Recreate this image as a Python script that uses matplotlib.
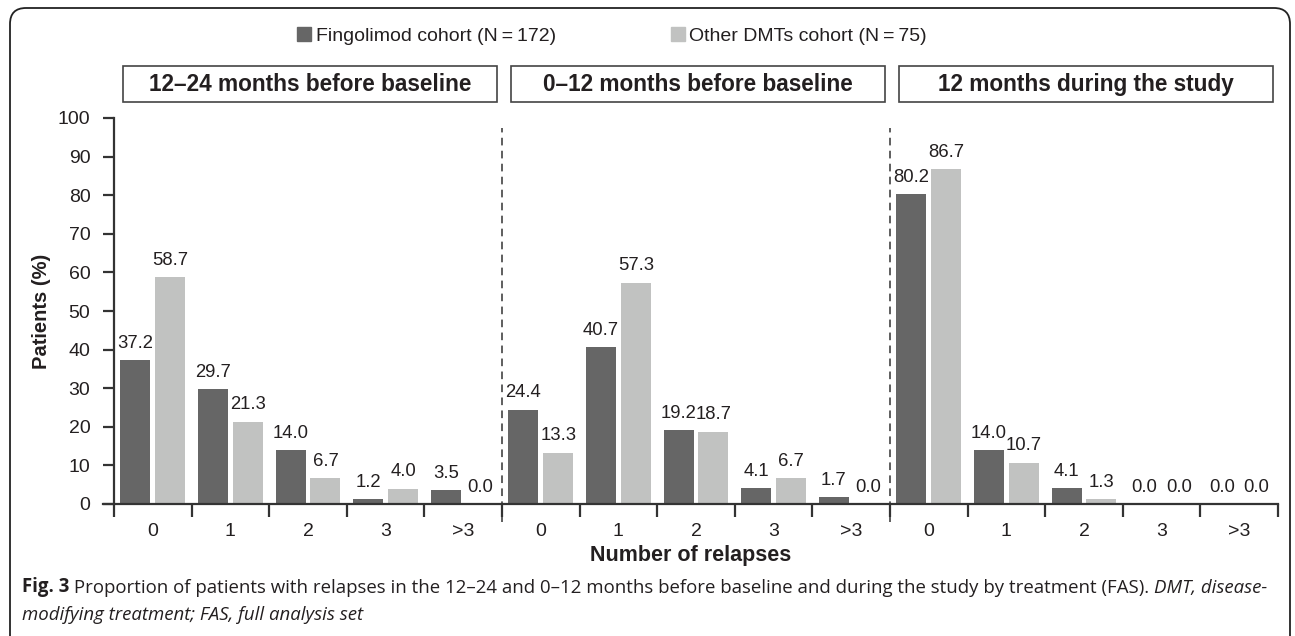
import numpy as np
import matplotlib
matplotlib.use("Agg")
import matplotlib.pyplot as plt
from matplotlib.patches import Rectangle, FancyBboxPatch, Patch
from matplotlib.transforms import IdentityTransform

plt.rcParams['font.family'] = ['Liberation Sans', 'DejaVu Sans']

periods = ['12\u201324 months before baseline', '0\u201312 months before baseline',
           '12 months during the study']
relapses = ['0', '1', '2', '3', '>3']
fingolimod = [[37.2, 29.7, 14.0, 1.2, 3.5],
              [24.4, 40.7, 19.2, 4.1, 1.7],
              [80.2, 14.0, 4.1, 0.0, 0.0]]
other_dmts = [[58.7, 21.3, 6.7, 4.0, 0.0],
              [13.3, 57.3, 18.7, 6.7, 0.0],
              [86.7, 10.7, 1.3, 0.0, 0.0]]
series_names = ['Fingolimod cohort (N\u2009=\u2009172)', 'Other DMTs cohort (N\u2009=\u200975)']

dark = '#666666'
light = '#c1c2c1'
txt = '#231f20'
axc = '#333333'

fig = plt.figure(figsize=(12.95, 6.36), dpi=100)
ax = fig.add_axes([103/1295, 1-504/636, (1278-103)/1295, 386/636])

n = len(relapses)
x = np.arange(len(periods)*n)
f_vals = np.concatenate(fingolimod)
o_vals = np.concatenate(other_dmts)
w = 0.387
off = 0.225
b1 = ax.bar(x-off, f_vals, w, color=dark)
b2 = ax.bar(x+off, o_vals, w, color=light)
for bars, vals in ((b1, f_vals), (b2, o_vals)):
    for r, v in zip(bars, vals):
        ax.annotate(f'{v:.1f}', (r.get_x()+r.get_width()/2, v), xytext=(0, 6),
                    textcoords='offset points', ha='center', va='bottom',
                    fontsize=13.3, color=txt)

ax.set_ylim(0, 100)
ax.set_xlim(-0.5-11/77.6, len(x)-0.5)
ax.set_yticks(np.arange(0, 101, 10))
ax.set_xticks(np.arange(-0.5, len(x), 1))
ax.set_xticklabels([])
ax.set_xticks(x, minor=True)
ax.set_xticklabels(relapses*len(periods), minor=True)
ax.tick_params(axis='x', which='major', direction='out', length=9.5, width=1.6, color=axc)
ax.tick_params(axis='x', which='minor', length=0, pad=14, labelsize=14, labelcolor=txt)
ax.tick_params(axis='y', direction='out', length=8, width=1.6, color=axc, pad=9,
               labelsize=14, labelcolor=txt)
for s in ('top', 'right'):
    ax.spines[s].set_visible(False)
ax.spines['left'].set_position(('data', -0.5))
for s in ('left', 'bottom'):
    ax.spines[s].set_color(axc)
    ax.spines[s].set_linewidth(1.6)

ax.set_ylabel('Patients (%)', fontsize=14.5, fontweight='bold', color=txt, labelpad=5)
ax.set_xlabel('Number of relapses', fontsize=15.5, fontweight='bold', color=txt, labelpad=3)

# dashed separators and period headers
for g, name in enumerate(periods):
    if g > 0:
        ax.plot([g*n-0.5]*2, [-0.047, 0.974], transform=ax.get_xaxis_transform(),
                color=axc, lw=1.1, ls=(0, (5, 3.5)), clip_on=False)
    x0 = g*n - 0.5 + 0.12
    x1 = g*n + n - 0.5 - 0.07
    ax.add_patch(Rectangle((x0, 1.0415), x1-x0, 0.093, transform=ax.get_xaxis_transform(),
                           fill=False, ec='#444444', lw=1.2, clip_on=False))
    ax.text((x0+x1)/2, 1.088, name, transform=ax.get_xaxis_transform(), ha='center',
            va='center', fontsize=16.3, fontweight='bold', color=txt)

handles = [Patch(color=dark), Patch(color=light)]
fig.legend(handles, series_names, loc='center', bbox_to_anchor=(612/1295, 1-36/636),
           ncol=2, frameon=False, fontsize=14, handlelength=0.72, handleheight=0.72,
           handletextpad=0.25, columnspacing=5.9, labelcolor=txt)

# outer frame
fig.add_artist(FancyBboxPatch((10, -40), 1280, 668, boxstyle='round,pad=0,rounding_size=16',
                              transform=IdentityTransform(), fill=False, ec='#222222', lw=1.3))

# caption
cap = dict(fontsize=13.4, color=txt, family=['Open Sans', 'DejaVu Sans'])
t1 = fig.text(22/1295, 1-597/636, 'Fig. 3', fontweight='bold', va='bottom', **cap)
a2 = fig.add_artist(plt.Annotation(
    ' Proportion of patients with relapses in the 12\u201324 and 0\u201312 months '
    'before baseline and during the study by treatment (FAS). ',
    xy=(1, 0), xycoords=t1, va='bottom', **cap))
fig.add_artist(plt.Annotation('DMT, disease-', xy=(1, 0), xycoords=a2, va='bottom',
                              style='italic', **cap))
fig.text(22/1295, 1-624/636, 'modifying treatment; FAS, full analysis set', va='bottom',
         style='italic', **cap)

fig.savefig('out.png', dpi=100)
